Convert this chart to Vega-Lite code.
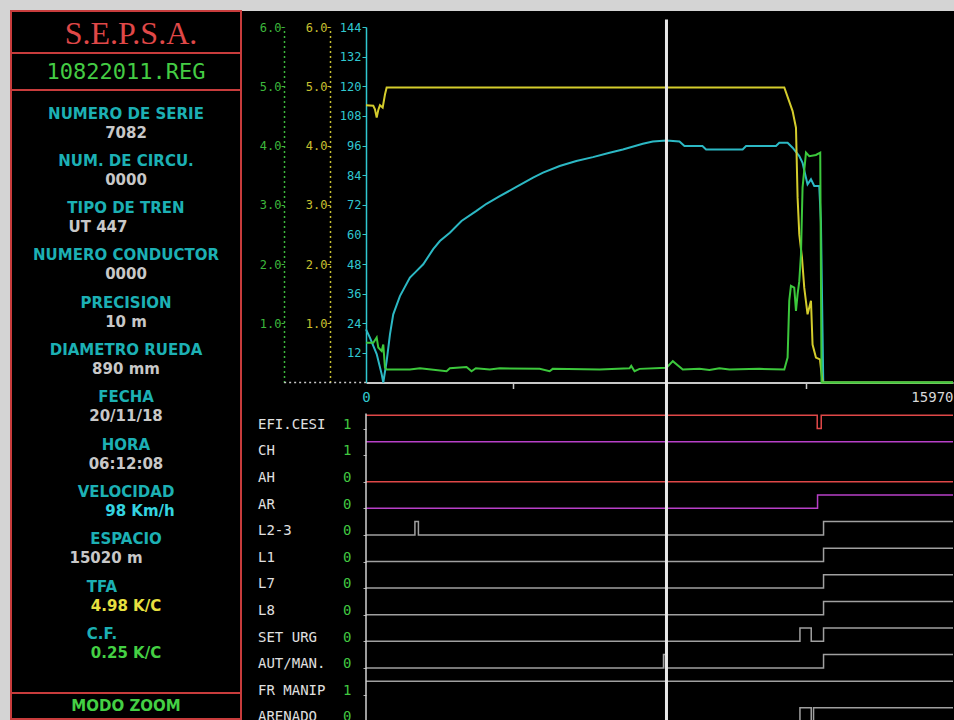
{
  "$schema": "https://vega.github.io/schema/vega-lite/v6.json",
  "background": "#d4d4d4",
  "padding": {"left": 10, "top": 10, "right": 0, "bottom": 0},
  "spacing": 0,
  "config": {"view": {"stroke": null}, "axis": {"labelFont": "DejaVu Sans Mono", "grid": false, "title": null}},
  "datasets": {
    "ficha": [
      {"campo": "NUMERO DE SERIE", "valor": "7082"},
      {"campo": "NUM. DE CIRCU.", "valor": "0000"},
      {"campo": "TIPO DE TREN", "valor": "UT 447"},
      {"campo": "NUMERO CONDUCTOR", "valor": "0000"},
      {"campo": "PRECISION", "valor": "10 m"},
      {"campo": "DIAMETRO RUEDA", "valor": "890 mm"},
      {"campo": "FECHA", "valor": "20/11/18"},
      {"campo": "HORA", "valor": "06:12:08"},
      {"campo": "VELOCIDAD", "valor": "98 Km/h"},
      {"campo": "ESPACIO", "valor": "15020 m"},
      {"campo": "TFA", "valor": "4.98 K/C"},
      {"campo": "C.F.", "valor": "0.25 K/C"}
    ],
    "velocidad": [
      {"d": 0, "v": 21.5}, {"d": 109, "v": 18.1}, {"d": 291, "v": 11.5}, {"d": 426, "v": 3.4},
      {"d": 470, "v": 0}, {"d": 562, "v": 8.7}, {"d": 652, "v": 19.5}, {"d": 741, "v": 27.6},
      {"d": 923, "v": 35}, {"d": 1195, "v": 42.5}, {"d": 1331, "v": 44.5}, {"d": 1557, "v": 47.9},
      {"d": 1828, "v": 54}, {"d": 2010, "v": 57.3}, {"d": 2281, "v": 60.7}, {"d": 2598, "v": 65.4},
      {"d": 3005, "v": 69.5}, {"d": 3278, "v": 72.4}, {"d": 3639, "v": 75.5}, {"d": 4092, "v": 79.2},
      {"d": 4545, "v": 83}, {"d": 4817, "v": 85}, {"d": 5269, "v": 87.7}, {"d": 5722, "v": 89.7},
      {"d": 6174, "v": 91.3}, {"d": 6627, "v": 93.1}, {"d": 6988, "v": 94.4}, {"d": 7531, "v": 96.7},
      {"d": 7803, "v": 97.6}, {"d": 8175, "v": 98}, {"d": 8528, "v": 97.6}, {"d": 8664, "v": 95.8},
      {"d": 9153, "v": 95.8}, {"d": 9253, "v": 94.4}, {"d": 10247, "v": 94.4}, {"d": 10340, "v": 95.8},
      {"d": 11155, "v": 95.8}, {"d": 11244, "v": 97.1}, {"d": 11470, "v": 97.1}, {"d": 11606, "v": 95.1},
      {"d": 11788, "v": 91.7}, {"d": 11877, "v": 89}, {"d": 11970, "v": 82.9}, {"d": 12013, "v": 80.3},
      {"d": 12106, "v": 82.3}, {"d": 12195, "v": 79.6}, {"d": 12331, "v": 79.6}, {"d": 12377, "v": 65},
      {"d": 12421, "v": 20}, {"d": 12440, "v": 0}, {"d": 15970, "v": 0}
    ],
    "tfa": [
      {"d": 0, "v": 4.68}, {"d": 198, "v": 4.67}, {"d": 244, "v": 4.61}, {"d": 291, "v": 4.47},
      {"d": 334, "v": 4.6}, {"d": 380, "v": 4.68}, {"d": 454, "v": 4.64}, {"d": 516, "v": 4.86},
      {"d": 562, "v": 4.98}, {"d": 8175, "v": 4.98}, {"d": 11380, "v": 4.98}, {"d": 11606, "v": 4.58},
      {"d": 11698, "v": 4.3}, {"d": 11742, "v": 3.12}, {"d": 11788, "v": 2.5}, {"d": 11861, "v": 2.11},
      {"d": 11923, "v": 1.6}, {"d": 12013, "v": 1.15}, {"d": 12106, "v": 1.38}, {"d": 12149, "v": 0.64},
      {"d": 12241, "v": 0.42}, {"d": 12350, "v": 0.39}, {"d": 12421, "v": 0}, {"d": 15970, "v": 0}
    ],
    "cf": [
      {"d": 0, "v": 0.67}, {"d": 198, "v": 0.67}, {"d": 291, "v": 0.76}, {"d": 334, "v": 0.59},
      {"d": 426, "v": 0.53}, {"d": 470, "v": 0.64}, {"d": 516, "v": 0.25}, {"d": 562, "v": 0.22},
      {"d": 1195, "v": 0.22}, {"d": 1467, "v": 0.24}, {"d": 2192, "v": 0.19}, {"d": 2281, "v": 0.24},
      {"d": 2735, "v": 0.26}, {"d": 2871, "v": 0.19}, {"d": 2988, "v": 0.24}, {"d": 3368, "v": 0.22},
      {"d": 3639, "v": 0.24}, {"d": 4726, "v": 0.23}, {"d": 4997, "v": 0.19}, {"d": 5079, "v": 0.23},
      {"d": 6355, "v": 0.22}, {"d": 7170, "v": 0.24}, {"d": 7216, "v": 0.28}, {"d": 7306, "v": 0.19},
      {"d": 7442, "v": 0.23}, {"d": 8175, "v": 0.25}, {"d": 8347, "v": 0.36}, {"d": 8618, "v": 0.22},
      {"d": 9071, "v": 0.23}, {"d": 9343, "v": 0.21}, {"d": 9615, "v": 0.24}, {"d": 9886, "v": 0.22},
      {"d": 10701, "v": 0.23}, {"d": 11380, "v": 0.22}, {"d": 11470, "v": 0.42}, {"d": 11515, "v": 1.38},
      {"d": 11561, "v": 1.63}, {"d": 11651, "v": 1.6}, {"d": 11698, "v": 1.21}, {"d": 11742, "v": 1.49},
      {"d": 11788, "v": 1.71}, {"d": 11834, "v": 2.16}, {"d": 11877, "v": 3.29}, {"d": 11970, "v": 3.88},
      {"d": 12060, "v": 3.82}, {"d": 12241, "v": 3.84}, {"d": 12358, "v": 3.88}, {"d": 12394, "v": 0},
      {"d": 15970, "v": 0}
    ],
    "senales": [
      {"senal": "EFI.CESI", "estado": 1}, {"senal": "CH", "estado": 1}, {"senal": "AH", "estado": 0},
      {"senal": "AR", "estado": 0}, {"senal": "L2-3", "estado": 0}, {"senal": "L1", "estado": 0},
      {"senal": "L7", "estado": 0}, {"senal": "L8", "estado": 0}, {"senal": "SET URG", "estado": 0},
      {"senal": "AUT/MAN.", "estado": 0}, {"senal": "FR MANIP", "estado": 1}, {"senal": "ARENADO", "estado": 0}
    ],
    "digitales": [
      {"senal": "EFI.CESI", "d": 0, "v": 1}, {"senal": "EFI.CESI", "d": 12276, "v": 0}, {"senal": "EFI.CESI", "d": 12385, "v": 1}, {"senal": "EFI.CESI", "d": 15970, "v": 1},
      {"senal": "CH", "d": 0, "v": 1}, {"senal": "CH", "d": 15970, "v": 1},
      {"senal": "AH", "d": 0, "v": 0}, {"senal": "AH", "d": 15970, "v": 0},
      {"senal": "AR", "d": 0, "v": 0}, {"senal": "AR", "d": 12285, "v": 1}, {"senal": "AR", "d": 15970, "v": 1},
      {"senal": "L2-3", "d": 0, "v": 0}, {"senal": "L2-3", "d": 1331, "v": 1}, {"senal": "L2-3", "d": 1426, "v": 0}, {"senal": "L2-3", "d": 12448, "v": 1}, {"senal": "L2-3", "d": 15970, "v": 1},
      {"senal": "L1", "d": 0, "v": 0}, {"senal": "L1", "d": 12448, "v": 1}, {"senal": "L1", "d": 15970, "v": 1},
      {"senal": "L7", "d": 0, "v": 0}, {"senal": "L7", "d": 12448, "v": 1}, {"senal": "L7", "d": 15970, "v": 1},
      {"senal": "L8", "d": 0, "v": 0}, {"senal": "L8", "d": 12448, "v": 1}, {"senal": "L8", "d": 15970, "v": 1},
      {"senal": "SET URG", "d": 0, "v": 0}, {"senal": "SET URG", "d": 11806, "v": 1}, {"senal": "SET URG", "d": 12113, "v": 0}, {"senal": "SET URG", "d": 12448, "v": 1}, {"senal": "SET URG", "d": 15970, "v": 1},
      {"senal": "AUT/MAN.", "d": 0, "v": 0}, {"senal": "AUT/MAN.", "d": 8094, "v": 1}, {"senal": "AUT/MAN.", "d": 8148, "v": 0}, {"senal": "AUT/MAN.", "d": 12448, "v": 1}, {"senal": "AUT/MAN.", "d": 15970, "v": 1},
      {"senal": "FR MANIP", "d": 0, "v": 1}, {"senal": "FR MANIP", "d": 15970, "v": 1},
      {"senal": "ARENADO", "d": 0, "v": 0}, {"senal": "ARENADO", "d": 11806, "v": 1}, {"senal": "ARENADO", "d": 12113, "v": 0}, {"senal": "ARENADO", "d": 12176, "v": 1}, {"senal": "ARENADO", "d": 15970, "v": 1}
    ]
  },
  "hconcat": [
    {
      "spacing": 0,
      "bounds": "flush",
      "vconcat": [
        {
          "width": 230, "height": 42,
          "view": {"fill": "#000000", "stroke": "#c83c3c", "strokeWidth": 2},
          "data": {"values": [{"titulo": "S.E.P.S.A."}]},
          "mark": {"type": "text", "font": "Liberation Serif", "fontSize": 32, "color": "#e04848", "dx": 5, "dy": 1.5},
          "encoding": {"text": {"field": "titulo"}}
        },
        {
          "width": 230, "height": 37,
          "view": {"fill": "#000000", "stroke": "#c83c3c", "strokeWidth": 2},
          "data": {"values": [{"fichero": "10822011.REG"}]},
          "mark": {"type": "text", "font": "DejaVu Sans Mono", "fontSize": 22, "color": "#44cc44"},
          "encoding": {"text": {"field": "fichero"}}
        },
        {
          "width": 230, "height": 603,
          "view": {"fill": "#000000", "stroke": "#c83c3c", "strokeWidth": 2},
          "data": {"name": "ficha"},
          "encoding": {
            "y": {"field": "campo", "type": "nominal", "sort": null, "scale": {"type": "point", "range": [33, 553.5], "padding": 0}, "axis": null}
          },
          "layer": [
            {
              "transform": [{"filter": "datum.campo !== 'TFA' && datum.campo !== 'C.F.'"}],
              "mark": {"type": "text", "font": "DejaVu Sans", "fontWeight": "bold", "fontSize": 15, "color": "#1cb0b4", "dy": -9.5},
              "encoding": {"text": {"field": "campo"}}
            },
            {
              "transform": [{"filter": "datum.campo === 'TFA' || datum.campo === 'C.F.'"}],
              "mark": {"type": "text", "font": "DejaVu Sans", "fontWeight": "bold", "fontSize": 15, "color": "#1cb0b4", "dy": -9.5, "dx": -24},
              "encoding": {"text": {"field": "campo"}}
            },
            {
              "transform": [{"filter": "datum.campo !== 'TIPO DE TREN' && datum.campo !== 'VELOCIDAD' && datum.campo !== 'ESPACIO'"}],
              "mark": {"type": "text", "font": "DejaVu Sans", "fontWeight": "bold", "fontSize": 15, "dy": 9.5},
              "encoding": {
                "text": {"field": "valor"},
                "color": {
                  "condition": [
                    {"test": "datum.campo === 'TFA'", "value": "#e8e040"},
                    {"test": "datum.campo === 'C.F.'", "value": "#44d044"}
                  ],
                  "value": "#c8c8c8"
                }
              }
            },
            {
              "transform": [{"filter": "datum.campo === 'TIPO DE TREN'"}],
              "mark": {"type": "text", "font": "DejaVu Sans", "fontWeight": "bold", "fontSize": 15, "dy": 9.5, "dx": -28, "color": "#c8c8c8"},
              "encoding": {"text": {"field": "valor"}}
            },
            {
              "transform": [{"filter": "datum.campo === 'VELOCIDAD'"}],
              "mark": {"type": "text", "font": "DejaVu Sans", "fontWeight": "bold", "fontSize": 15, "dy": 9.5, "dx": 14, "color": "#34d4e0"},
              "encoding": {"text": {"field": "valor"}}
            },
            {
              "transform": [{"filter": "datum.campo === 'ESPACIO'"}],
              "mark": {"type": "text", "font": "DejaVu Sans", "fontWeight": "bold", "fontSize": 15, "dy": 9.5, "dx": -20, "color": "#c8c8c8"},
              "encoding": {"text": {"field": "valor"}}
            }
          ]
        },
        {
          "width": 230, "height": 26,
          "view": {"fill": "#000000", "stroke": "#c83c3c", "strokeWidth": 2},
          "data": {"values": [{"modo": "MODO ZOOM"}]},
          "mark": {"type": "text", "font": "DejaVu Sans", "fontWeight": "bold", "fontSize": 15, "color": "#44d044", "dy": -0.5},
          "encoding": {"text": {"field": "modo"}}
        }
      ]
    },
    {
      "width": 712, "height": 710,
      "view": {"fill": "#000000", "stroke": null},
      "resolve": {"scale": {"x": "independent", "y": "independent"}, "axis": {"x": "independent", "y": "independent"}},
      "layer": [
        {
          "resolve": {"scale": {"y": "independent"}, "axis": {"y": "independent"}},
          "layer": [
            {
              "data": {"name": "velocidad"},
              "mark": {"type": "line", "color": "#2cb8c4", "strokeWidth": 2, "clip": true},
              "encoding": {
                "x": {"field": "d", "type": "quantitative", "scale": {"domain": [0, 15970], "range": [124, 711]}, "axis": null},
                "y": {
                  "field": "v", "type": "quantitative",
                  "scale": {"domain": [0, 144], "range": [371.5, 16]},
                  "axis": {
                    "orient": "left", "offset": -124,
                    "values": [12, 24, 36, 48, 60, 72, 84, 96, 108, 120, 132, 144],
                    "domainColor": "#30c8d0", "domainWidth": 1.5, "tickColor": "#30c8d0", "tickSize": 4,
                    "labelColor": "#30c8d0", "labelFontSize": 12, "labelPadding": 1, "labelOverlap": false,
                    "grid": false, "title": null
                  }
                }
              }
            },
            {
              "data": {"values": [{"desde": -2227, "hasta": 0}]},
              "mark": {"type": "rule", "color": "#c8c8c8", "strokeDash": [2, 3], "strokeWidth": 1.5},
              "encoding": {
                "x": {"field": "desde", "type": "quantitative", "scale": {"domain": [0, 15970], "range": [124, 711]}, "axis": null},
                "x2": {"field": "hasta"},
                "y": {"datum": 0, "type": "quantitative", "scale": {"domain": [0, 144], "range": [371.5, 16]}, "axis": null}
              }
            },
            {
              "data": {"name": "tfa"},
              "mark": {"type": "line", "color": "#d4cc2c", "strokeWidth": 2, "clip": true},
              "encoding": {
                "x": {"field": "d", "type": "quantitative", "scale": {"domain": [0, 15970], "range": [124, 711]}, "axis": null},
                "y": {
                  "field": "v", "type": "quantitative",
                  "scale": {"domain": [0, 6], "range": [371.5, 16]},
                  "axis": {
                    "orient": "left", "offset": -88, "values": [1, 2, 3, 4, 5, 6], "format": ".1f",
                    "domainColor": "#c8c030", "domainDash": [2, 3], "domainWidth": 1.5,
                    "tickColor": "#c8c030", "tickSize": 3, "labelColor": "#c8c030", "labelFontSize": 12,
                    "labelPadding": 0, "grid": false, "title": null
                  }
                }
              }
            },
            {
              "data": {"name": "cf"},
              "mark": {"type": "line", "color": "#3cc83c", "strokeWidth": 2, "clip": true},
              "encoding": {
                "x": {"field": "d", "type": "quantitative", "scale": {"domain": [0, 15970], "range": [124, 711]}, "axis": null},
                "y": {
                  "field": "v", "type": "quantitative",
                  "scale": {"domain": [0, 6], "range": [371.5, 16]},
                  "axis": {
                    "orient": "left", "offset": -42, "values": [1, 2, 3, 4, 5, 6], "format": ".1f",
                    "domainColor": "#3cb83c", "domainDash": [2, 3], "domainWidth": 1.5,
                    "tickColor": "#3cb83c", "tickSize": 3, "labelColor": "#3cb83c", "labelFontSize": 12,
                    "labelPadding": 0, "grid": false, "title": null
                  }
                }
              }
            },
            {
              "data": {"name": "digitales"},
              "transform": [{"filter": "datum.senal === 'EFI.CESI'"}],
              "mark": {"type": "line", "interpolate": "step-after", "color": "#e04848", "strokeWidth": 1.5, "clip": true},
              "encoding": {
                "x": {"field": "d", "type": "quantitative", "scale": {"domain": [0, 15970], "range": [124, 711]}, "axis": null},
                "y": {"field": "v", "type": "quantitative", "scale": {"domain": [0, 1], "range": [417.5, 404.2]},
                  "axis": {"orient": "left", "offset": -124, "values": [0], "labels": false, "domain": false, "tickSize": 3, "tickColor": "#b0b0b0", "grid": false, "title": null}}
              }
            },
            {
              "data": {"name": "digitales"},
              "transform": [{"filter": "datum.senal === 'CH'"}],
              "mark": {"type": "line", "interpolate": "step-after", "color": "#b840c8", "strokeWidth": 1.5, "clip": true},
              "encoding": {
                "x": {"field": "d", "type": "quantitative", "scale": {"domain": [0, 15970], "range": [124, 711]}, "axis": null},
                "y": {"field": "v", "type": "quantitative", "scale": {"domain": [0, 1], "range": [444.1, 430.8]},
                  "axis": {"orient": "left", "offset": -124, "values": [0], "labels": false, "domain": false, "tickSize": 3, "tickColor": "#b0b0b0", "grid": false, "title": null}}
              }
            },
            {
              "data": {"name": "digitales"},
              "transform": [{"filter": "datum.senal === 'AH'"}],
              "mark": {"type": "line", "interpolate": "step-after", "color": "#e04848", "strokeWidth": 1.5, "clip": true},
              "encoding": {
                "x": {"field": "d", "type": "quantitative", "scale": {"domain": [0, 15970], "range": [124, 711]}, "axis": null},
                "y": {"field": "v", "type": "quantitative", "scale": {"domain": [0, 1], "range": [470.7, 457.4]},
                  "axis": {"orient": "left", "offset": -124, "values": [0], "labels": false, "domain": false, "tickSize": 3, "tickColor": "#b0b0b0", "grid": false, "title": null}}
              }
            },
            {
              "data": {"name": "digitales"},
              "transform": [{"filter": "datum.senal === 'AR'"}],
              "mark": {"type": "line", "interpolate": "step-after", "color": "#b840c8", "strokeWidth": 1.5, "clip": true},
              "encoding": {
                "x": {"field": "d", "type": "quantitative", "scale": {"domain": [0, 15970], "range": [124, 711]}, "axis": null},
                "y": {"field": "v", "type": "quantitative", "scale": {"domain": [0, 1], "range": [497.3, 484]},
                  "axis": {"orient": "left", "offset": -124, "values": [0], "labels": false, "domain": false, "tickSize": 3, "tickColor": "#b0b0b0", "grid": false, "title": null}}
              }
            },
            {
              "data": {"name": "digitales"},
              "transform": [{"filter": "datum.senal === 'L2-3'"}],
              "mark": {"type": "line", "interpolate": "step-after", "color": "#a0a0a0", "strokeWidth": 1.5, "clip": true},
              "encoding": {
                "x": {"field": "d", "type": "quantitative", "scale": {"domain": [0, 15970], "range": [124, 711]}, "axis": null},
                "y": {"field": "v", "type": "quantitative", "scale": {"domain": [0, 1], "range": [523.9, 510.6]},
                  "axis": {"orient": "left", "offset": -124, "values": [0], "labels": false, "domain": false, "tickSize": 3, "tickColor": "#b0b0b0", "grid": false, "title": null}}
              }
            },
            {
              "data": {"name": "digitales"},
              "transform": [{"filter": "datum.senal === 'L1'"}],
              "mark": {"type": "line", "interpolate": "step-after", "color": "#a0a0a0", "strokeWidth": 1.5, "clip": true},
              "encoding": {
                "x": {"field": "d", "type": "quantitative", "scale": {"domain": [0, 15970], "range": [124, 711]}, "axis": null},
                "y": {"field": "v", "type": "quantitative", "scale": {"domain": [0, 1], "range": [550.5, 537.2]},
                  "axis": {"orient": "left", "offset": -124, "values": [0], "labels": false, "domain": false, "tickSize": 3, "tickColor": "#b0b0b0", "grid": false, "title": null}}
              }
            },
            {
              "data": {"name": "digitales"},
              "transform": [{"filter": "datum.senal === 'L7'"}],
              "mark": {"type": "line", "interpolate": "step-after", "color": "#a0a0a0", "strokeWidth": 1.5, "clip": true},
              "encoding": {
                "x": {"field": "d", "type": "quantitative", "scale": {"domain": [0, 15970], "range": [124, 711]}, "axis": null},
                "y": {"field": "v", "type": "quantitative", "scale": {"domain": [0, 1], "range": [577.1, 563.8]},
                  "axis": {"orient": "left", "offset": -124, "values": [0], "labels": false, "domain": false, "tickSize": 3, "tickColor": "#b0b0b0", "grid": false, "title": null}}
              }
            },
            {
              "data": {"name": "digitales"},
              "transform": [{"filter": "datum.senal === 'L8'"}],
              "mark": {"type": "line", "interpolate": "step-after", "color": "#a0a0a0", "strokeWidth": 1.5, "clip": true},
              "encoding": {
                "x": {"field": "d", "type": "quantitative", "scale": {"domain": [0, 15970], "range": [124, 711]}, "axis": null},
                "y": {"field": "v", "type": "quantitative", "scale": {"domain": [0, 1], "range": [603.7, 590.4]},
                  "axis": {"orient": "left", "offset": -124, "values": [0], "labels": false, "domain": false, "tickSize": 3, "tickColor": "#b0b0b0", "grid": false, "title": null}}
              }
            },
            {
              "data": {"name": "digitales"},
              "transform": [{"filter": "datum.senal === 'SET URG'"}],
              "mark": {"type": "line", "interpolate": "step-after", "color": "#a0a0a0", "strokeWidth": 1.5, "clip": true},
              "encoding": {
                "x": {"field": "d", "type": "quantitative", "scale": {"domain": [0, 15970], "range": [124, 711]}, "axis": null},
                "y": {"field": "v", "type": "quantitative", "scale": {"domain": [0, 1], "range": [630.3, 617]},
                  "axis": {"orient": "left", "offset": -124, "values": [0], "labels": false, "domain": false, "tickSize": 3, "tickColor": "#b0b0b0", "grid": false, "title": null}}
              }
            },
            {
              "data": {"name": "digitales"},
              "transform": [{"filter": "datum.senal === 'AUT/MAN.'"}],
              "mark": {"type": "line", "interpolate": "step-after", "color": "#a0a0a0", "strokeWidth": 1.5, "clip": true},
              "encoding": {
                "x": {"field": "d", "type": "quantitative", "scale": {"domain": [0, 15970], "range": [124, 711]}, "axis": null},
                "y": {"field": "v", "type": "quantitative", "scale": {"domain": [0, 1], "range": [656.9, 643.6]},
                  "axis": {"orient": "left", "offset": -124, "values": [0], "labels": false, "domain": false, "tickSize": 3, "tickColor": "#b0b0b0", "grid": false, "title": null}}
              }
            },
            {
              "data": {"name": "digitales"},
              "transform": [{"filter": "datum.senal === 'FR MANIP'"}],
              "mark": {"type": "line", "interpolate": "step-after", "color": "#a0a0a0", "strokeWidth": 1.5, "clip": true},
              "encoding": {
                "x": {"field": "d", "type": "quantitative", "scale": {"domain": [0, 15970], "range": [124, 711]}, "axis": null},
                "y": {"field": "v", "type": "quantitative", "scale": {"domain": [0, 1], "range": [683.5, 670.2]},
                  "axis": {"orient": "left", "offset": -124, "values": [0], "labels": false, "domain": false, "tickSize": 3, "tickColor": "#b0b0b0", "grid": false, "title": null}}
              }
            },
            {
              "data": {"name": "digitales"},
              "transform": [{"filter": "datum.senal === 'ARENADO'"}],
              "mark": {"type": "line", "interpolate": "step-after", "color": "#a0a0a0", "strokeWidth": 1.5, "clip": true},
              "encoding": {
                "x": {"field": "d", "type": "quantitative", "scale": {"domain": [0, 15970], "range": [124, 711]}, "axis": null},
                "y": {"field": "v", "type": "quantitative", "scale": {"domain": [0, 1], "range": [710.1, 696.8]}, "axis": null}
              }
            },
            {
              "data": {"values": [{"d": 0}]},
              "mark": {"type": "rule", "color": "#d0d0d0", "strokeWidth": 1.5, "clip": true},
              "encoding": {
                "x": {"field": "d", "type": "quantitative", "scale": {"domain": [0, 15970], "range": [124, 711]}, "axis": null},
                "y": {"datum": -12.6, "type": "quantitative", "scale": {"domain": [0, 144], "range": [371.5, 16]}, "axis": null},
                "y2": {"datum": -140}
              }
            }
          ]
        },
        {
          "data": {"name": "senales"},
          "transform": [{"fold": ["senal", "estado"], "as": ["columna", "texto"]}],
          "mark": {"type": "text", "align": "left", "font": "DejaVu Sans Mono", "fontSize": 14, "clip": true},
          "encoding": {
            "x": {"field": "columna", "type": "nominal", "scale": {"type": "point", "domain": ["senal", "estado"], "range": [16, 101], "padding": 0}, "axis": null},
            "y": {"field": "senal", "type": "nominal", "sort": null, "scale": {"type": "point", "range": [413.8, 706.4], "padding": 0}, "axis": null},
            "text": {"field": "texto"},
            "color": {"condition": {"test": "datum.columna === 'estado'", "value": "#40c840"}, "value": "#e0e0e0"}
          }
        },
        {
          "data": {"values": [{"d": 8175}]},
          "mark": {"type": "rule", "color": "#e8e8e8", "strokeWidth": 3, "clip": true},
          "encoding": {
            "x": {
              "field": "d", "type": "quantitative",
              "scale": {"domain": [0, 15970], "range": [124, 711]},
              "axis": {
                "orient": "bottom", "offset": -338.5,
                "values": [0, 3992.5, 11977.5, 15970],
                "labelExpr": "datum.value === 0 ? '0' : (datum.value === 15970 ? '15970' : '')",
                "labelColor": {"condition": {"test": "datum.value === 0", "value": "#30c8d0"}, "value": "#d8d8d8"},
                "labelAlign": {"condition": {"test": "datum.value === 15970", "value": "right"}, "value": "center"},
                "labelFontSize": 14, "labelPadding": 2, "labelOverlap": false, "labelFlush": false, "labelBound": false,
                "tickColor": "#c8c8c8", "tickSize": 6, "tickWidth": 1.5,
                "tickOpacity": {"condition": {"test": "datum.value === 0 || datum.value === 15970", "value": 0}, "value": 1},
                "domainColor": "#c8c8c8", "domainWidth": 2, "grid": false, "title": null
              }
            },
            "y": {"datum": 147, "type": "quantitative", "scale": {"domain": [0, 144], "range": [371.5, 16]}, "axis": null},
            "y2": {"datum": -140}
          }
        }
      ]
    }
  ]
}
